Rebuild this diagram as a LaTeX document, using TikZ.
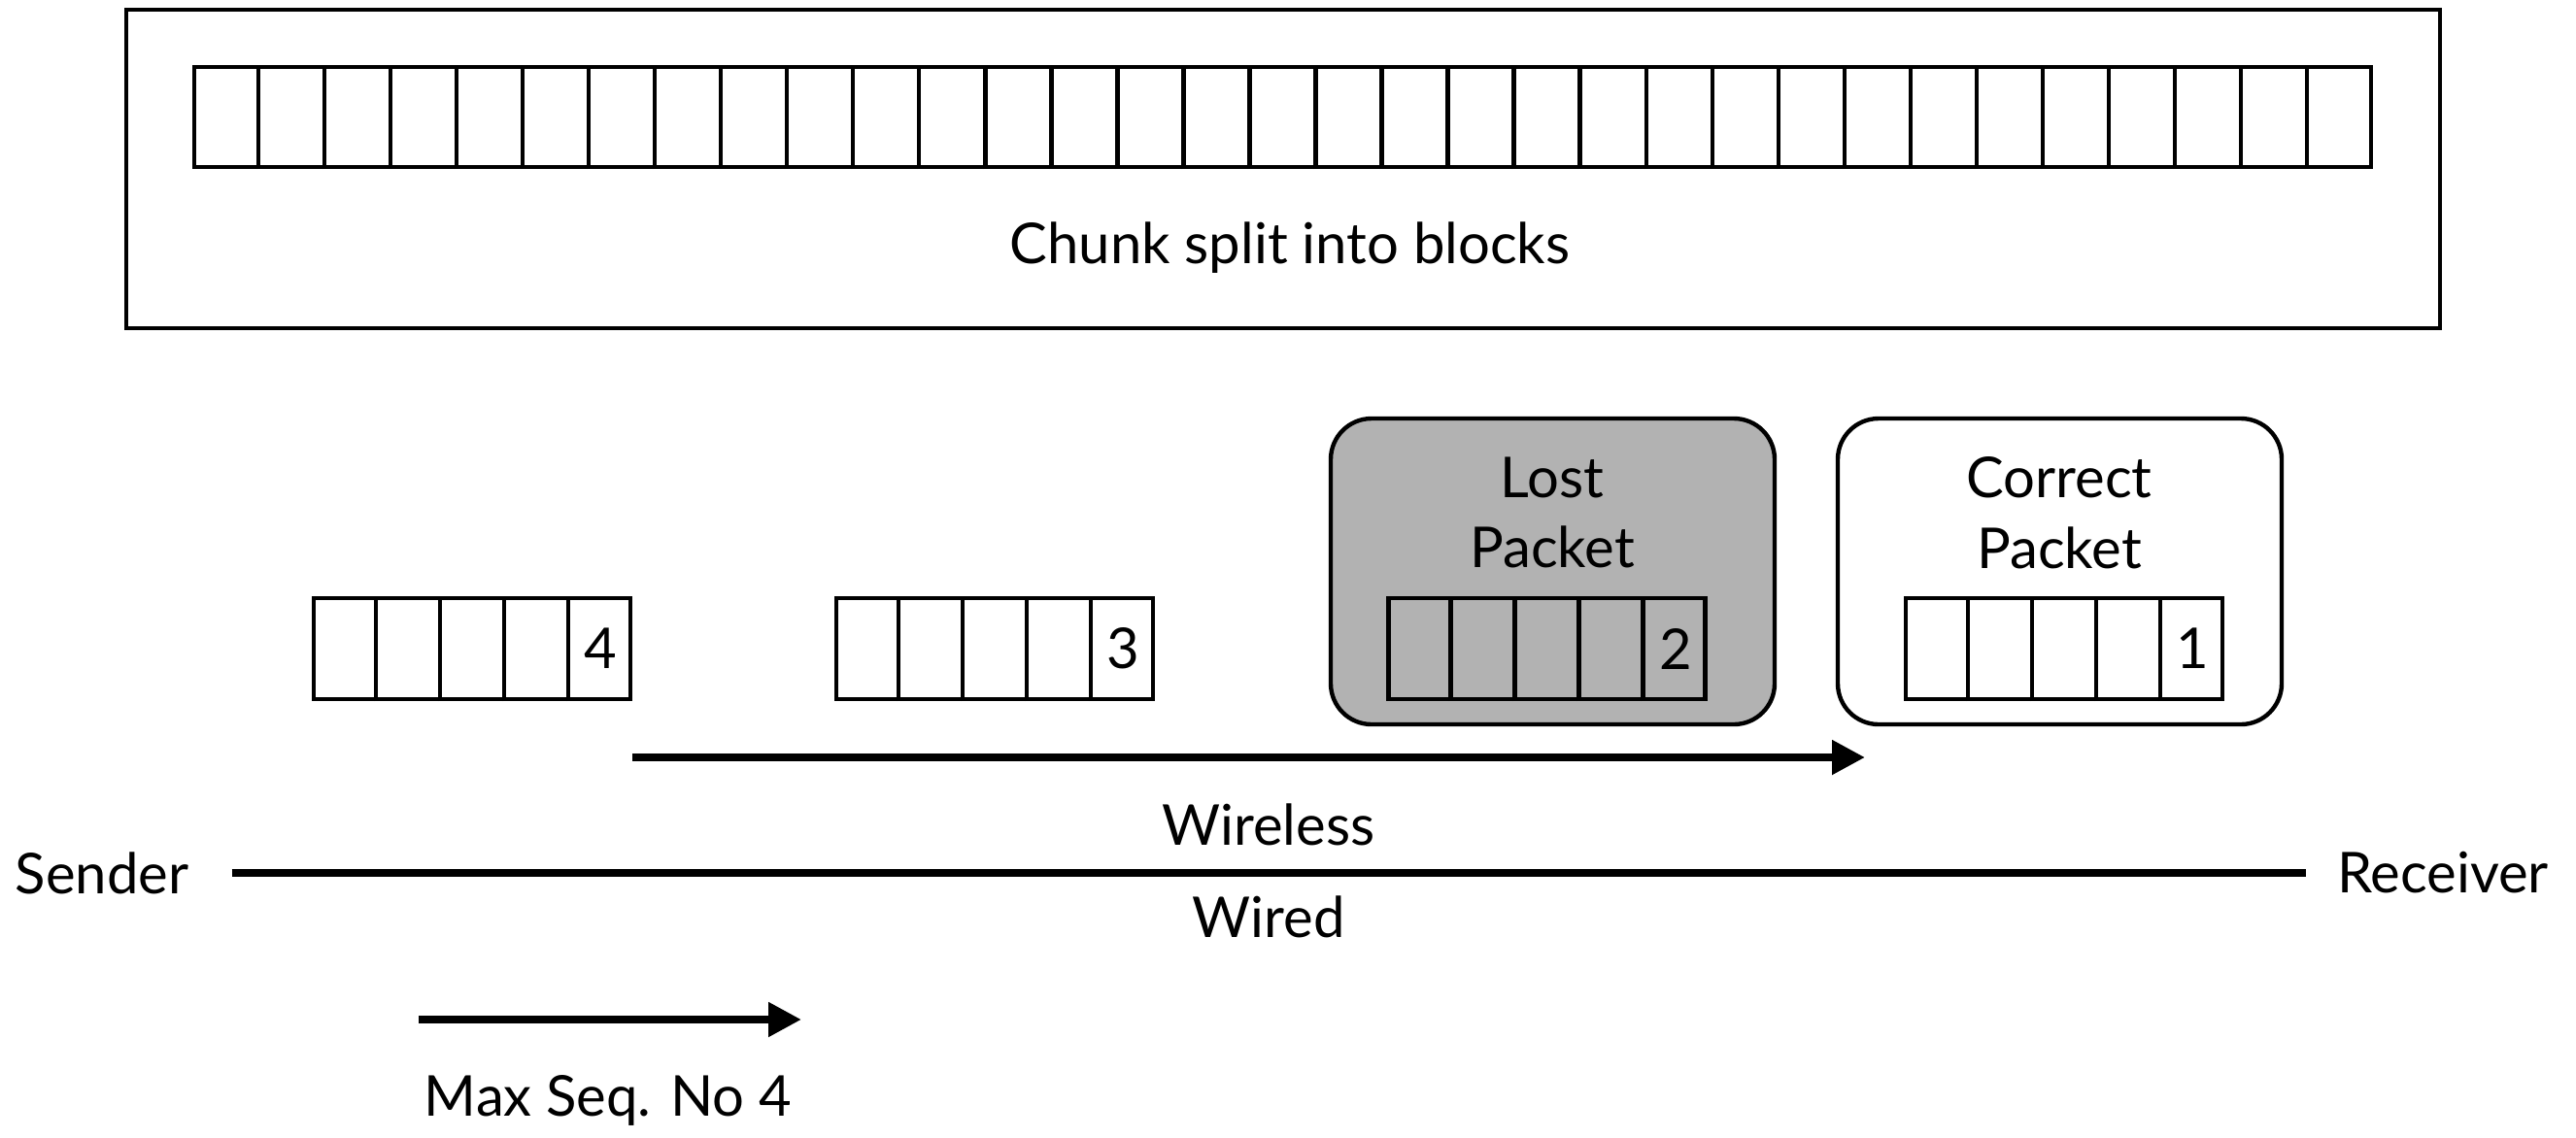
\documentclass[tikz,border=0pt]{standalone}
\usepackage{fontspec}
\setmainfont{Lato}
\usetikzlibrary{positioning,calc,arrows.meta}

\tikzset{
  frame/.style={draw, line width=1.4pt, inner sep=0pt, minimum width=23.82cm, minimum height=3.28cm},
  blockrow/.style={draw, line width=1.25pt, inner sep=0pt, minimum width=22.41cm, minimum height=1.03cm},
  packet/.style={draw, line width=1.25pt, inner sep=0pt, minimum width=3.26cm, minimum height=1.04cm},
  pktbox/.style={draw, line width=1.25pt, rounded corners=0.42cm, inner sep=0pt, minimum width=4.57cm, minimum height=3.15cm},
  lbl/.style={font=\fontsize{16.5}{20.7}\selectfont, align=center},
  wire/.style={line width=2.4pt},
  flow/.style={line width=2.3pt, -{Triangle[length=0.34cm, width=0.34cm]}},
}

\begin{document}
\begin{tikzpicture}
\useasboundingbox (0, 0) rectangle (26.52, -11.71);

% chunk
\node[frame] (chunk) at (13.21, -1.74) {};
\node[blockrow] (blocks) at (13.205, -1.205) {};
\foreach \i in {1,...,32}
  \draw[line width=1.25pt] ($(blocks.south west)!\i/33!(blocks.south east)$) -- ($(blocks.north west)!\i/33!(blocks.north east)$);
\node[lbl] (chunktxt) at (13.28, -2.55) {Chunk split into blocks};

% lost and correct
\node[pktbox, fill=black!30] (lostbox) at (15.985, -5.885) {};
\node[pktbox] (okbox) at (21.205, -5.885) {};
\node[lbl] (losttxt) at (15.98, -5.28) {Lost\\Packet};
\node[lbl] (oktxt) at (21.2, -5.28) {Correct\\Packet};

% packets
\node[packet] (p4) at (4.86, -6.68) {};
\node[packet] (p3) at (10.24, -6.68) {};
\node[packet] (p2) at (15.925, -6.68) {};
\node[packet] (p1) at (21.25, -6.68) {};
\foreach \p/\n in {p4/4, p3/3, p2/2, p1/1} {
  \foreach \i in {1,...,4}
    \draw[line width=1.25pt] ($(\p.south west)!\i/5!(\p.south east)$) -- ($(\p.north west)!\i/5!(\p.north east)$);
  \node[lbl] (n\n) at ($(\p.east)+(-0.326, 0)$) {\n};
}

% links
\coordinate (wlstart) at (6.51, -7.80);
\coordinate (wlend) at (19.2, -7.80);
\draw[flow] (wlstart) -- (wlend);
\node[lbl] (wireless) at (13.06, -8.49) {Wireless};

\node[lbl] (sender) at (1.05, -8.99) {Sender};
\node[lbl] (receiver) at (25.15, -8.99) {Receiver};
\draw[wire, shorten <=0.32cm, shorten >=0.2cm] (sender) -- (receiver);
\node[lbl] (wired) at (13.06, -9.44) {Wired};

\coordinate (maxstart) at (4.31, -10.50);
\coordinate (maxend) at (8.25, -10.50);
\draw[flow] (maxstart) -- (maxend);
\node[lbl] (maxtxt) at (6.26, -11.33) {Max Seq. No 4};

\end{tikzpicture}
\end{document}
